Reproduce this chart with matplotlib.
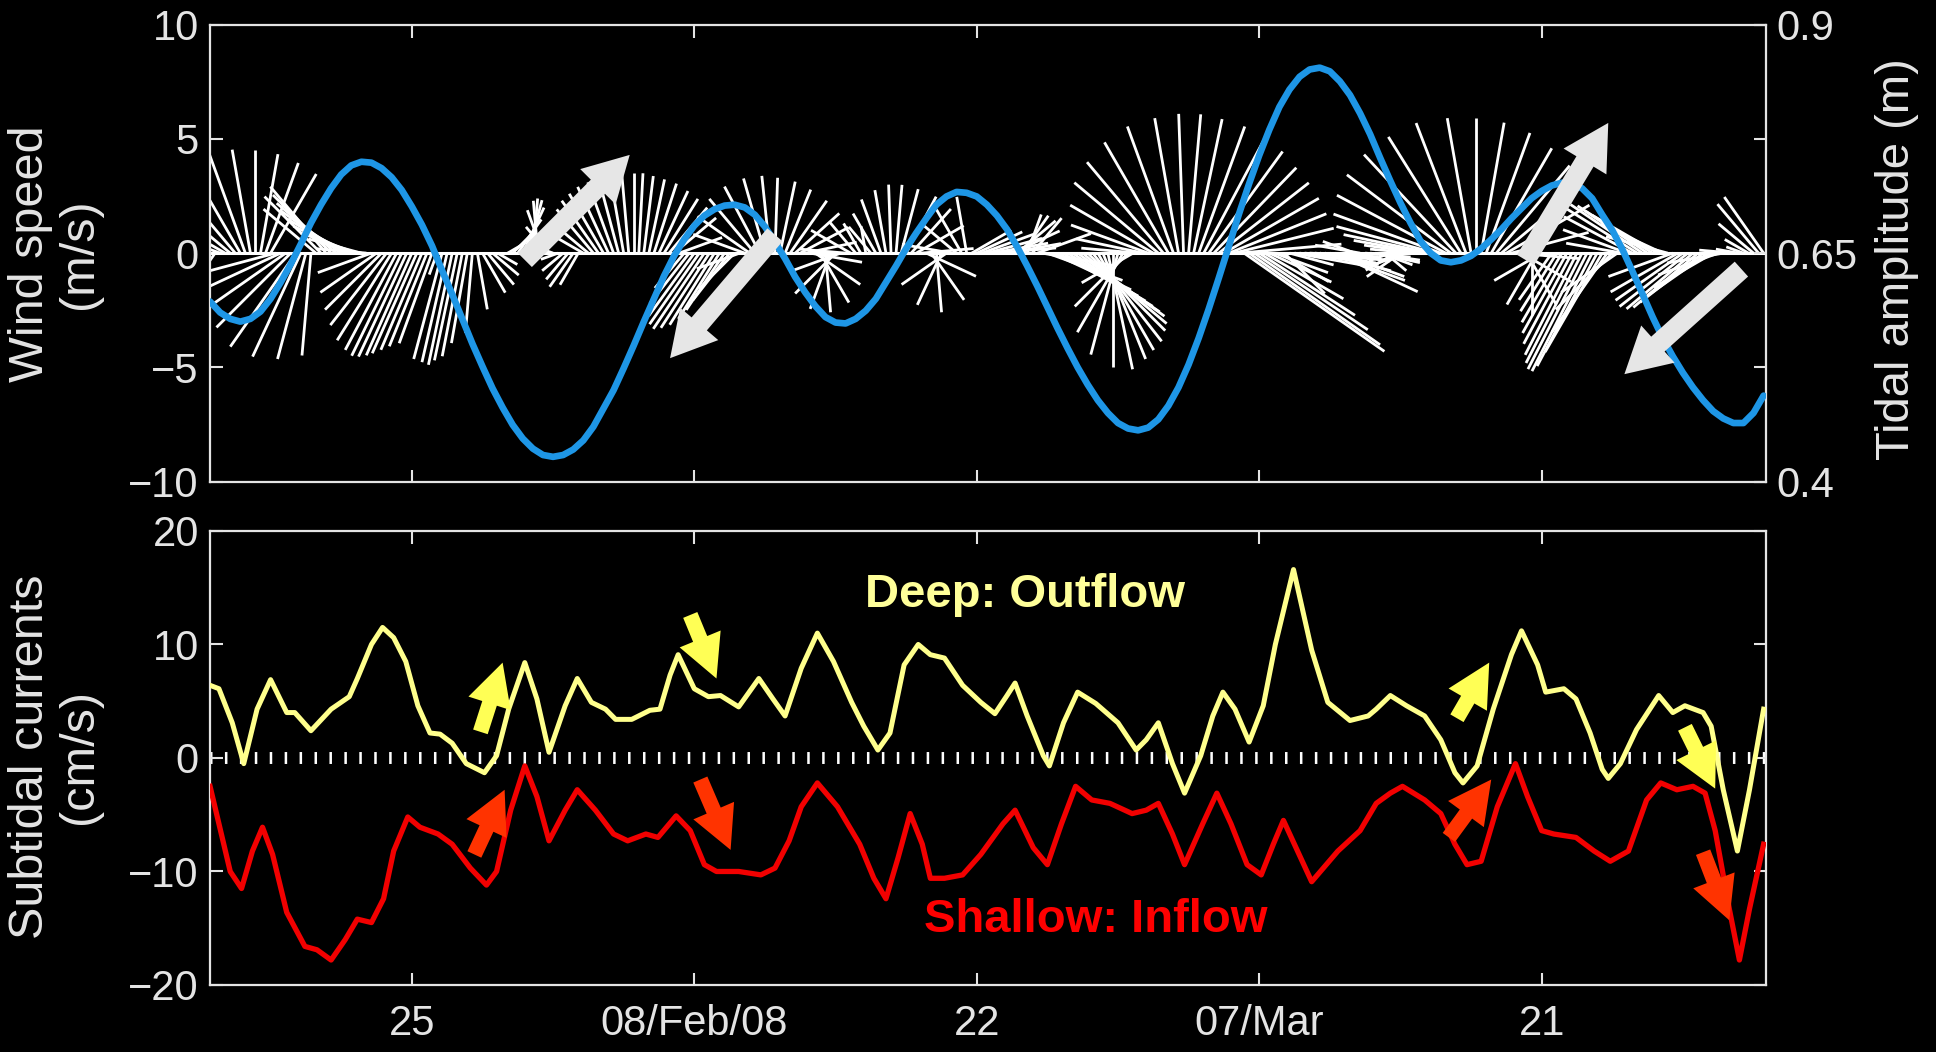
import numpy as np
import matplotlib
matplotlib.use('Agg')
import matplotlib.pyplot as plt
from matplotlib.collections import LineCollection

plt.rcParams['font.family'] = ['Liberation Sans', 'DejaVu Sans']

# x axis: days since 15/Jan/2008
x_ticks = [10, 24, 38, 52, 66]
x_ticklabels = ['25', '08/Feb/08', '22', '07/Mar', '21']

# tidal amplitude (m), read every half day
tide_day = [i * 0.5 for i in range(155)]
tide_amp = [0.597, 0.585, 0.578, 0.575, 0.578, 0.586, 0.600, 0.618, 0.638, 0.660,
            0.683, 0.703, 0.721, 0.736, 0.746, 0.750, 0.749, 0.743, 0.733, 0.719,
            0.701, 0.681, 0.658, 0.631, 0.605, 0.578, 0.551, 0.526, 0.502, 0.481,
            0.462, 0.447, 0.436, 0.429, 0.427, 0.429, 0.435, 0.445, 0.460, 0.480,
            0.500, 0.524, 0.549, 0.575, 0.600, 0.625, 0.647, 0.665, 0.680, 0.691,
            0.698, 0.702, 0.703, 0.700, 0.692, 0.679, 0.662, 0.644, 0.624, 0.607,
            0.592, 0.580, 0.574, 0.573, 0.578, 0.587, 0.600, 0.618, 0.636, 0.655,
            0.672, 0.688, 0.703, 0.712, 0.717, 0.716, 0.712, 0.703, 0.691, 0.676,
            0.657, 0.636, 0.614, 0.591, 0.568, 0.546, 0.525, 0.506, 0.489, 0.475,
            0.464, 0.458, 0.456, 0.459, 0.468, 0.483, 0.503, 0.528, 0.557, 0.589,
            0.623, 0.658, 0.693, 0.726, 0.757, 0.785, 0.810, 0.829, 0.843, 0.851,
            0.853, 0.849, 0.838, 0.823, 0.803, 0.780, 0.754, 0.729, 0.705, 0.683,
            0.663, 0.650, 0.642, 0.640, 0.642, 0.647, 0.655, 0.665, 0.676, 0.688,
            0.699, 0.710, 0.718, 0.724, 0.727, 0.726, 0.721, 0.710, 0.692, 0.675,
            0.654, 0.630, 0.605, 0.580, 0.557, 0.537, 0.519, 0.503, 0.489, 0.477,
            0.469, 0.464, 0.464, 0.475, 0.494]

# wind, every 6 hours: speed (m/s) and direction the stick points (deg, ccw from east)
wind_speed = [
    3.0, 3.5, 4.0, 4.3,  4.5, 4.6, 4.7, 4.7,  4.6, 4.5, 4.4, 4.2,  4.0, 3.5, 3.8, 4.2,  4.6, 5.0, 5.0, 4.8,
    4.5, 3.0, 3.5, 3.8,  3.6, 3.4, 3.2, 3.0,  2.8, 2.6, 2.4, 2.2,  2.5, 3.0, 3.5, 4.0,  4.5, 4.8, 5.0, 5.0,
    4.9, 4.8, 4.6, 4.4,  4.2, 1.0, 4.8, 4.9,  5.0, 4.8, 4.6, 4.0,  3.5, 2.5, 2.0, 1.8,  1.5, 1.0, 0.5, 0.8,
    1.2, 1.8, 2.2, 2.4,  2.4, 2.3, 2.0, 1.5,  1.0, 0.8, 1.2, 1.5,  1.8, 1.6, 1.5, 2.0,  2.5, 2.8, 3.0, 3.2,
    3.3, 3.4, 3.5, 3.5,  3.5, 3.5, 3.4, 3.3,  3.2, 3.0, 2.8, 2.6,  2.4, 2.0, 2.0, 2.8,  3.4, 3.8, 4.0, 3.9,
    3.7, 3.4, 3.0, 2.6,  2.2, 2.0, 2.4, 2.8,  3.1, 3.3, 3.4, 3.4,  3.3, 3.2, 3.0, 2.8,  2.6, 2.4, 2.3, 2.3,
    2.4, 2.5, 2.6, 2.6,  2.5, 2.3, 2.0, 2.0,  1.8, 1.5, 1.2, 1.5,  2.0, 2.5, 2.8, 3.0,  3.0, 2.9, 2.8, 2.6,
    2.4, 2.3, 2.4, 2.5,  2.6, 2.5, 2.4, 2.2,  2.0, 2.2, 2.5, 2.0,  2.2, 2.4, 2.5, 2.5,  2.6, 2.5, 2.4, 2.3,
    2.2, 2.0, 1.8, 2.0,  2.5, 3.0, 3.5, 3.8,  4.0, 4.2, 4.4, 4.6,  4.7, 4.8, 4.8, 4.9,  4.9, 5.0, 5.2, 5.0,
    4.6, 4.0, 3.3, 2.6,  2.5, 3.0, 3.6, 4.2,  4.8, 5.2, 5.6, 5.9,  6.0, 6.1, 6.1, 6.0,  5.9, 5.7, 5.5, 5.2,
    5.0, 4.8, 4.6, 4.5,  4.5, 7.5, 7.0, 6.0,  5.0, 4.0, 3.0, 2.5,  2.5, 2.5, 2.0, 3.0,  3.5, 3.5, 3.0, 2.5,
    2.5, 3.0, 3.5, 4.0,  3.0, 2.0, 1.5, 1.5,  2.0, 2.0, 2.2, 2.0,  1.5, 1.2, 1.0, 1.5,  1.8, 1.5, 1.5, 2.0,
    2.5, 3.2, 3.9, 4.5,  5.0, 5.4, 5.7, 5.9,  6.0, 6.1, 6.0, 5.9,  5.8, 5.6, 5.3, 5.0,  4.6, 4.2, 3.5, 2.8,
    2.5, 2.6, 2.7, 2.6,  2.4, 2.2, 2.5, 3.0,  3.5, 4.0, 4.5, 5.0,  5.4, 5.7, 5.8, 5.6,  5.0, 4.2, 3.5, 3.0,
    2.5, 3.0, 3.4, 3.7,  3.8, 3.7, 3.5, 3.3,  3.0, 2.8, 3.0, 3.4,  3.6, 3.8, 3.8, 3.7,  3.5, 3.2, 3.0, 2.8,
    2.5, 2.0, 1.5, 1.0,  0.8, 1.2, 2.0, 2.8,  3.0,
]
wind_dir = [
    250, 235, 160, 150,  140, 130, 120, 110,  100, 90, 80, 70,  60, 195, 205, 215,  225, 235, 245, 255,
    265, 140, 135, 130,  135, 140, 145, 150,  155, 160, 165, 175,  200, 215, 225, 232,  238, 242, 244, 245,
    246, 246, 247, 248,  250, 250, 255, 257,  258, 258, 259, 260,  265, 280, 300, 310,  320, 330, 0, 30,
    45, 55, 65, 75,  85, 95, 110, 130,  160, 200, 220, 230,  235, 240, 150, 140,  130, 125, 120, 115,
    110, 105, 100, 95,  90, 87, 83, 78,  72, 65, 58, 50,  40, 20, 230, 232,  234, 235, 236, 237,
    238, 238, 236, 232,  225, 200, 160, 145,  130, 118, 106, 96,  88, 78, 68, 55,  42, 28, 12, -10,
    -35, -60, -85, -110,  -135, -160, 175, 150,  130, 120, 100, 130,  120, 110, 100, 92,  85, 75, 62, 48,
    30, 5, -25, -55,  -85, -115, -145, 170,  140, 120, 100, 30,  25, 20, 15, 10,  5, 0, 10, 25,
    40, 55, 70, 50,  20, -10, -20, -25,  -28, -30, -32, -34,  -36, -40, -45, -52,  -60, -68, -78, -90,
    -105, -120, -135, -150,  175, 168, 160, 150,  140, 130, 120, 110,  100, 92, 85, 78,  70, 62, 54, 46,
    38, 30, 22, 14,  5, -35, -35, -34,  -33, -30, -25, -20,  -30, -45, -15, -10,  -8, -5, -3, -5,
    -10, -15, -20, -25,  -20, -10, 0, 160,  170, -5, -8, -12,  -20, -40, 200, 210,  215, 200, 180, 175,
    172, 170, 168, 165,  160, 152, 143, 133,  122, 111, 100, 90,  80, 70, 60, 50,  40, 30, 15, -5,
    -30, -60, -90, -120,  -150, 180, 235, 238,  240, 241, 242, 243,  243, 243, 243, 242,  240, 235, 225, 215,
    170, 160, 152, 148,  146, 146, 148, 150,  155, 165, 200, 210,  215, 218, 220, 220,  218, 215, 210, 200,
    190, 180, 175, 170,  160, 150, 140, 130,  125,
]

# subtidal currents (cm/s)
deep_day = [0, 0.44, 1.1, 1.67, 2.33, 3.0, 3.8, 4.2, 5.0, 6.0, 6.9, 7.3, 8.0, 8.55, 9.1, 9.7,
            10.3, 10.9, 11.4, 12.0, 12.7, 13.6, 14.2, 14.8, 15.6, 16.2, 16.8, 17.6, 18.2, 18.9,
            19.6, 20.1, 20.9, 21.8, 22.3, 22.8, 23.2, 24.0, 24.7, 25.3, 26.2, 27.2, 27.9, 28.5,
            29.3, 30.1, 30.9, 31.8, 32.4, 33.1, 33.7, 34.4, 35.1, 35.7, 36.4, 37.3, 38.2, 38.9,
            39.5, 39.9, 40.5, 41.3, 41.6, 42.3, 43.0, 43.9, 45.0, 45.9, 46.4, 47.0, 47.7, 48.3,
            49.1, 49.7, 50.2, 50.8, 51.5, 52.2, 52.8, 53.7, 54.6, 55.4, 56.5, 57.4, 57.8, 58.5,
            59.3, 60.2, 61.0, 61.7, 62.1, 62.8, 63.6, 64.5, 65.0, 65.8, 66.2, 67.1, 67.7, 68.4,
            69.0, 69.3, 69.9, 70.7, 71.8, 72.5, 73.1, 74.0, 74.4, 75.0, 75.7, 76.3, 77.0]
deep_vel = [6.4, 6.1, 3.1, -0.5, 4.3, 6.9, 4.0, 4.0, 2.4, 4.3, 5.4, 7.0, 10.0, 11.5, 10.6, 8.5,
            4.6, 2.2, 2.1, 1.3, -0.5, -1.3, 0.2, 4.3, 8.4, 5.2, 0.5, 4.6, 7.0, 4.9,
            4.3, 3.4, 3.4, 4.2, 4.3, 7.3, 9.1, 6.1, 5.4, 5.5, 4.5, 7.0, 5.2, 3.7,
            7.9, 11.0, 8.5, 4.9, 2.8, 0.7, 2.2, 8.2, 10.0, 9.1, 8.8, 6.4, 4.9, 3.9,
            5.5, 6.6, 3.7, 0.2, -0.7, 3.1, 5.8, 4.8, 3.1, 0.7, 1.6, 3.1, -0.5, -3.1,
            0.2, 3.7, 5.8, 4.3, 1.4, 4.6, 10.0, 16.6, 9.5, 4.9, 3.3, 3.7, 4.3, 5.5,
            4.6, 3.7, 1.6, -1.3, -2.2, -0.7, 4.3, 9.1, 11.2, 8.2, 5.8, 6.1, 5.2, 2.2,
            -1.0, -1.8, -0.5, 2.5, 5.5, 4.0, 4.6, 4.0, 2.8, -2.8, -8.2, -2.8, 4.3]
shallow_day = [0, 0.44, 1.0, 1.56, 2.1, 2.6, 3.1, 3.8, 4.7, 5.3, 6.0, 6.7, 7.3, 8.0, 8.6, 9.1,
               9.8, 10.4, 11.3, 12.0, 12.9, 13.7, 14.2, 14.9, 15.6, 16.2, 16.8, 17.6, 18.2, 19.1,
               20.0, 20.7, 21.6, 22.2, 23.1, 23.8, 24.5, 25.1, 26.2, 27.3, 28.0, 28.7, 29.3, 30.1,
               31.1, 32.2, 32.9, 33.5, 34.1, 34.7, 35.3, 35.7, 36.4, 37.3, 38.2, 39.3, 39.9, 40.8,
               41.5, 42.2, 42.9, 43.7, 44.6, 45.7, 46.4, 47.0, 47.7, 48.3, 49.2, 49.9, 50.6, 51.4,
               52.1, 52.7, 53.2, 53.9, 54.6, 55.9, 57.0, 57.8, 58.5, 59.1, 60.2, 61.0, 61.7, 62.3,
               63.0, 63.8, 64.7, 65.3, 66.0, 66.6, 67.7, 68.6, 69.4, 70.3, 71.2, 71.9, 72.7, 73.5,
               74.1, 74.6, 75.3, 75.8, 76.3, 77.0]
shallow_vel = [-2.5, -5.8, -10.0, -11.5, -8.2, -6.1, -8.5, -13.6, -16.6, -16.9, -17.8, -16.0, -14.2,
               -14.5, -12.4, -8.2, -5.2, -6.1, -6.7, -7.6, -9.7, -11.2, -10.0, -4.6, -0.7, -3.4,
               -7.3, -4.6, -2.8, -4.6, -6.7, -7.3, -6.7, -7.0, -5.1, -6.4, -9.4, -10.0, -10.0,
               -10.3, -9.7, -7.3, -4.3, -2.2, -4.3, -7.6, -10.6, -12.4, -8.8, -4.9, -7.6, -10.6,
               -10.6, -10.3, -8.5, -5.8, -4.6, -7.9, -9.4, -5.8, -2.5, -3.7, -4.0, -4.9, -4.6,
               -4.0, -6.7, -9.4, -5.8, -3.1, -5.8, -9.4, -10.3, -7.6, -5.5, -8.2, -10.9, -8.2,
               -6.4, -4.0, -3.1, -2.5, -3.7, -4.9, -7.6, -9.4, -9.1, -4.3, -0.5, -3.4, -6.4,
               -6.7, -7.0, -8.2, -9.1, -8.2, -3.7, -2.2, -2.8, -2.5, -3.1, -6.4, -13.3, -17.8,
               -13.3, -7.6]

fg = '#E4E4E4'
x_max = 77.1

fig = plt.figure(figsize=(19.36, 10.52), dpi=100, facecolor='black')
ax_w = fig.add_axes([0.1085, 0.5423, 0.8035, 0.4342])
ax_t = ax_w.twinx()
ax_c = fig.add_axes([0.1085, 0.0637, 0.8035, 0.4316])


def style(ax):
    ax.set_facecolor('black')
    for sp in ax.spines.values():
        sp.set_color(fg)
        sp.set_linewidth(1.6)
    ax.tick_params(direction='in', length=9, width=1.5, colors=fg, labelsize=30,
                   top=True, right=True)
    ax.tick_params(axis='y', pad=8)
    ax.tick_params(axis='x', pad=14)
    ax.set_xlim(0, x_max)
    ax.set_xticks(x_ticks)


# ---- top panel: wind sticks + tidal amplitude
style(ax_w)
ax_w.set_ylim(-10, 10)
ax_w.set_yticks([-10, -5, 0, 5, 10])
ax_w.tick_params(labelbottom=False)

t = np.arange(len(wind_speed)) * 0.25
ang = np.deg2rad(np.array(wind_dir, dtype=float))
u = np.array(wind_speed) * np.cos(ang)
v = np.array(wind_speed) * np.sin(ang)
# keep the sticks isotropic on screen
pos = ax_w.get_position()
px_day = pos.width * fig.get_figwidth() * fig.dpi / x_max
px_ms = pos.height * fig.get_figheight() * fig.dpi / 20.0
k = px_ms / px_day
segs = [[(ti, 0), (ti + k * ui, vi)] for ti, ui, vi in zip(t, u, v)]
ax_w.add_collection(LineCollection(segs, colors='white', linewidths=2.0))
ax_w.axhline(0, color='white', lw=2.2)

ax_t.set_ylim(0.4, 0.9)
ax_t.set_yticks([0.4, 0.65, 0.9])
ax_t.set_yticklabels(['0.4', '0.65', '0.9'])
ax_t.tick_params(direction='in', length=9, width=1.5, colors=fg, labelsize=30, pad=8)
for sp in ax_t.spines.values():
    sp.set_visible(False)
ax_t.plot(tide_day, tide_amp, color='#1E96E6', lw=4.8, solid_capstyle='round',
          solid_joinstyle='round')

gray_arrows = [((15.6, -0.3), (20.8, 4.3)), ((28.0, 0.8), (22.8, -4.6)),
               ((65.2, -0.3), (69.3, 5.7)), ((75.9, -0.7), (70.1, -5.3))]
for tail, head in gray_arrows:
    ax_t.annotate('', xy=head, xytext=tail, xycoords=ax_w.transData, textcoords=ax_w.transData,
                  arrowprops=dict(arrowstyle='simple,head_length=1.35,head_width=1.5,tail_width=0.6',
                                  color='#E6E6E6', lw=0, mutation_scale=24, shrinkA=0, shrinkB=0))

# ---- bottom panel: subtidal currents
style(ax_c)
ax_c.set_ylim(-20, 20)
ax_c.set_yticks([-20, -10, 0, 10, 20])
ax_c.set_xticklabels(x_ticklabels)
ax_c.axhline(0, color='white', lw=8.6, linestyle=(0, (0.21, 1.04)), dash_capstyle='butt', zorder=1)
ax_c.plot(deep_day, deep_vel, color='#FFFF8C', lw=3.6, zorder=3, solid_joinstyle='round')
ax_c.plot(shallow_day, shallow_vel, color='#F20000', lw=3.8, zorder=3, solid_joinstyle='round')

ax_c.text(40.4, 14.4, 'Deep: Outflow', color='#FFFF99', fontsize=34, fontweight='bold',
          ha='center', va='center')
ax_c.text(43.9, -14.3, 'Shallow: Inflow', color='#FF0000', fontsize=34, fontweight='bold',
          ha='center', va='center')

yellow_arrows = [((13.4, 2.3), (14.5, 8.4)), ((23.8, 12.6), (25.1, 7.0)),
                 ((61.8, 3.5), (63.4, 8.4)), ((73.1, 2.7), (74.6, -2.7))]
red_arrows = [((13.1, -8.5), (14.6, -2.8)), ((24.3, -1.9), (25.8, -8.1)),
              ((61.4, -7.0), (63.5, -1.9)), ((74.0, -8.3), (75.3, -14.3))]
for arrows, col in [(yellow_arrows, '#FFFF55'), (red_arrows, '#FF3300')]:
    for tail, head in arrows:
        ax_c.annotate('', xy=head, xytext=tail,
                      arrowprops=dict(arrowstyle='simple,head_length=1.4,head_width=1.45,tail_width=0.5',
                                      color=col, lw=0, mutation_scale=22, shrinkA=0, shrinkB=0),
                      zorder=5)

# ---- axis labels
fig.text(0.0284, 0.759, 'Wind speed\n(m/s)', rotation=90, ha='center', va='center',
         color=fg, fontsize=35, linespacing=1.1, multialignment='center')
fig.text(0.0284, 0.281, 'Subtidal currents\n(cm/s)', rotation=90, ha='center', va='center',
         color=fg, fontsize=35, linespacing=1.1, multialignment='center')
fig.text(0.980, 0.754, 'Tidal amplitude (m)', rotation=90, ha='center', va='center',
         color=fg, fontsize=34)

fig.savefig('out.png', dpi=100, facecolor='black')
